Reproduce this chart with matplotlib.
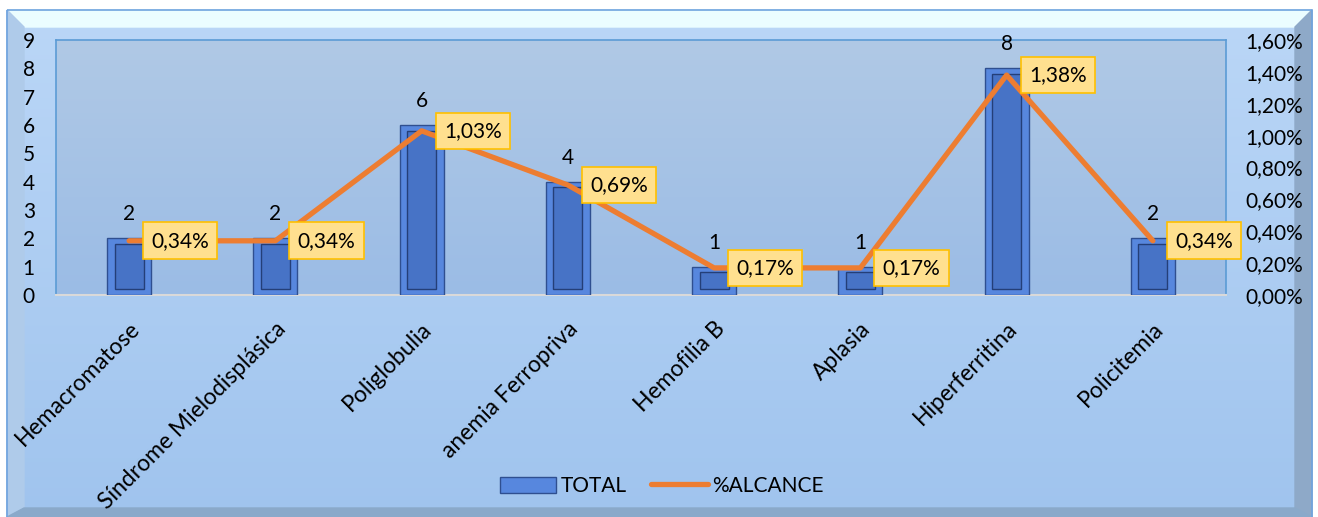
import numpy as np
import matplotlib.pyplot as plt
from matplotlib.patches import Rectangle, Polygon
from matplotlib.lines import Line2D
from matplotlib.transforms import ScaledTranslation
from matplotlib.colors import LinearSegmentedColormap

categories = ['Hemacromatose', 'Síndrome Mielodisplásica', 'Poliglobulia',
              'anemia Ferropriva', 'Hemofilia B', 'Aplasia', 'Hiperferritina',
              'Policitemia']
total = [2, 2, 6, 4, 1, 1, 8, 2]
alcance = [0.34, 0.34, 1.03, 0.69, 0.17, 0.17, 1.38, 0.34]
alcance_labels = ['0,34%', '0,34%', '1,03%', '0,69%', '0,17%', '0,17%', '1,38%', '0,34%']
left_ticks = list(range(0, 10))
right_ticks = [0.0, 0.2, 0.4, 0.6, 0.8, 1.0, 1.2, 1.4, 1.6]

plt.rcParams['font.family'] = ['Lato', 'DejaVu Sans']
FS = 15

W, H = 1318, 517
fig = plt.figure(figsize=(W / 100, H / 100), dpi=100)

# background with bevelled frame (pixel coordinates)
bg = fig.add_axes([0, 0, 1, 1], zorder=-10)
bg.set_xlim(0, W)
bg.set_ylim(H, 0)
bg.axis('off')
grad = np.linspace(0, 1, 200).reshape(-1, 1)
bg.imshow(grad, extent=(0, W, H, 0), aspect='auto',
          cmap=LinearSegmentedColormap.from_list('bg', ['#bbd7f7', '#a0c4ee']))
bg.add_patch(Rectangle((0, 0), W, 10, color='white', zorder=2))
bg.add_patch(Rectangle((0, 0), 7, H, color='white', zorder=2))
bg.add_patch(Rectangle((1312, 0), 6, H, color='white', zorder=2))
bg.add_patch(Polygon([(7, 10), (1312, 10), (1295, 27), (24, 27)], color='#ebfdff', zorder=2))
bg.add_patch(Polygon([(7, 10), (24, 27), (24, 508), (7, 517)], color='#afcbea', zorder=2))
bg.add_patch(Polygon([(1312, 10), (1312, 517), (1295, 508), (1295, 27)], color='#8ea9c8', zorder=2))
bg.add_patch(Polygon([(7, 517), (24, 508), (1295, 508), (1312, 517)], color='#8aa9ca', zorder=2))
bg.add_patch(Rectangle((7, 10), 1305, 520, fill=False, ec='#6fa3de', lw=1.2, zorder=3))

ax = fig.add_axes([56 / W, 1 - 295 / H, (1226 - 56) / W, (295 - 40) / H])
ax.set_facecolor('none')
ax.imshow(grad, extent=(0, 1, 0, 1), transform=ax.transAxes, aspect='auto', zorder=0,
          cmap=LinearSegmentedColormap.from_list('pa', ['#b0c9e6', '#9bbce5']))

x = np.arange(len(categories))
bw = 0.30
bev = 0.2
# bevelled bars: outer frame + inner face
ax.bar(x, total, width=bw, color='#5787de', edgecolor='#2f4f90', linewidth=1, zorder=3)
ax.bar(x, [t - 2 * bev for t in total], bottom=bev, width=bw * 0.66,
       color='#4773c6', edgecolor='#243f78', linewidth=1, zorder=4)
for xi, t in zip(x, total):
    ax.annotate(str(t), (xi, t), xytext=(0, 10), textcoords='offset points',
                ha='center', va='bottom', fontsize=FS, zorder=6)

ax.set_xlim(-0.5, len(categories) - 0.5)
ax.set_ylim(0, 9)
ax.set_yticks(left_ticks)
ax.set_yticklabels([str(v) for v in left_ticks], ha='left')
ax.tick_params(axis='y', length=0, labelsize=FS, pad=24)
ax.set_xticks(x)
ax.set_xticklabels(categories, rotation=45, ha='right', va='center', rotation_mode='anchor')
ax.tick_params(axis='x', length=0, labelsize=16.5, pad=22)
for lab in ax.get_xticklabels():
    lab.set_transform(lab.get_transform() + ScaledTranslation(0.07, 0, fig.dpi_scale_trans))
for side in ['top', 'left', 'right']:
    ax.spines[side].set_color('#5b9bd5')
    ax.spines[side].set_linewidth(1.2)
ax.spines['bottom'].set_color('#d9d9d9')
ax.spines['bottom'].set_linewidth(1.5)

ax2 = ax.twinx()
ax2.plot(x, alcance, color='#ed7d31', linewidth=3.8, solid_capstyle='round',
         solid_joinstyle='round', zorder=5)
ax2.set_ylim(0, 1.6)
ax2.set_yticks(right_ticks)
ax2.set_yticklabels([f'{v:.2f}%'.replace('.', ',') for v in right_ticks])
ax2.tick_params(axis='y', length=0, labelsize=FS, pad=14)
for s in ax2.spines.values():
    s.set_visible(False)
for xi, a, lab in zip(x, alcance, alcance_labels):
    ax2.annotate(lab, (xi, a), xytext=(16, 0), textcoords='offset points',
                 ha='left', va='center', fontsize=15, zorder=7,
                 bbox=dict(boxstyle='square,pad=0.4', fc='#ffe08f', ec='#ffc000', lw=1.2))

handles = [Rectangle((0, 0), 1, 1, fc='#5787de', ec='#2f4f90'),
           Line2D([0], [0], color='#ed7d31', lw=3.8, solid_capstyle='round')]
fig.legend(handles, ['TOTAL', '%ALCANCE'], loc='center', bbox_to_anchor=(0.502, 1 - 486 / H),
           ncol=2, frameon=False, fontsize=FS, handlelength=2.7, handleheight=0.8,
           handletextpad=0.2, columnspacing=1.2)

fig.savefig('out.png', dpi=100)
